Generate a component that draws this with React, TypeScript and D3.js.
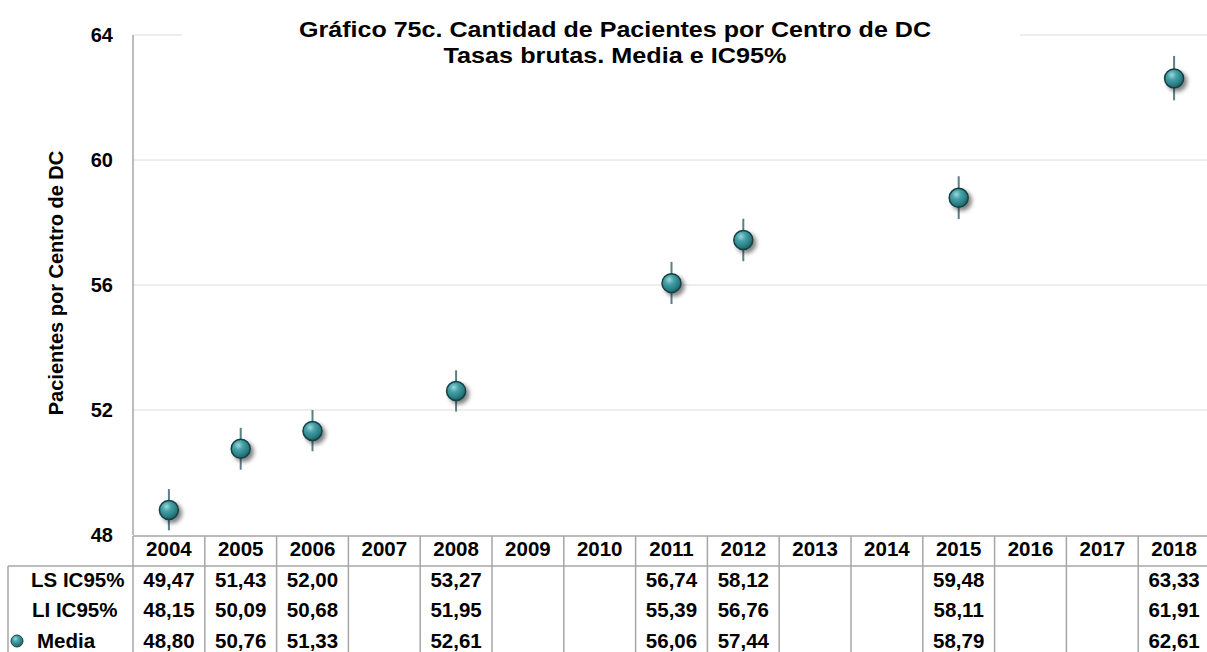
import React from 'react';
import { scaleLinear, scaleBand, format } from 'd3';

const years = ['2004','2005','2006','2007','2008','2009','2010','2011','2012','2013','2014','2015','2016','2017','2018'];
const media = [48.80, 50.76, 51.33, null, 52.61, null, null, 56.06, 57.44, null, null, 58.79, null, null, 62.61];
const lsIC = [49.47, 51.43, 52.00, null, 53.27, null, null, 56.74, 58.12, null, null, 59.48, null, null, 63.33];
const liIC = [48.15, 50.09, 50.68, null, 51.95, null, null, 55.39, 56.76, null, null, 58.11, null, null, 61.91];
const yTicks = [48, 52, 56, 60, 64];

const W = 1207, H = 652;
const left = 133, top = 35, bottom = 535;
const colW = 71.8;
const fontF = '"Liberation Sans", Arial, sans-serif';

const fmt = (v: number | null) => (v == null ? '' : format('.2f')(v).replace('.', ','));

const App: React.FC = () => {
  const x = scaleBand<string>().domain(years).range([left, left + colW * years.length]);
  const y = scaleLinear().domain([48, 64]).range([bottom, top]);

  const headerBottom = 566;
  const rows = [
    { label: 'LS IC95%', vals: lsIC, y: 580, lx: 31 },
    { label: 'LI IC95%', vals: liIC, y: 610, lx: 32 },
    { label: 'Media', vals: media, y: 641, lx: 37 },
  ];

  return (
    <svg width={W} height={H} style={{ position: 'absolute', left: 0, top: 0, background: '#fff' }}>
      <defs>
        <radialGradient id="ball" cx="0.38" cy="0.32" r="0.7">
          <stop offset="0" stopColor="#9fd6da" />
          <stop offset="0.35" stopColor="#45a2a8" />
          <stop offset="0.8" stopColor="#27797f" />
          <stop offset="1" stopColor="#1a5c61" />
        </radialGradient>
        <filter id="shadow" x="-50%" y="-50%" width="200%" height="200%">
          <feGaussianBlur in="SourceAlpha" stdDeviation="2" />
          <feOffset dx="3" dy="3" result="b" />
          <feComponentTransfer><feFuncA type="linear" slope="0.5" /></feComponentTransfer>
          <feMerge>
            <feMergeNode />
            <feMergeNode in="SourceGraphic" />
          </feMerge>
        </filter>
      </defs>

      {/* gridlines */}
      {yTicks.filter(t => t !== 48).map(t => (
        <line key={t} x1={left} x2={W} y1={y(t)} y2={y(t)} stroke="#dcdcdc" strokeWidth={1} />
      ))}
      {/* title background */}
      <rect x={182} y={8} width={838} height={70} fill="#fff" />
      <text x={615} y={37} textAnchor="middle" fontFamily={fontF} fontWeight="bold" fontSize={22}
        textLength={632} lengthAdjust="spacingAndGlyphs">
        Gráfico 75c. Cantidad de Pacientes por Centro de DC
      </text>
      <text x={615} y={63} textAnchor="middle" fontFamily={fontF} fontWeight="bold" fontSize={22}
        textLength={343} lengthAdjust="spacingAndGlyphs">
        Tasas brutas. Media e IC95%
      </text>

      {/* y axis */}
      <line x1={left} x2={left} y1={top} y2={bottom} stroke="#a6a6a6" strokeWidth={1.5} />
      {yTicks.map(t => (
        <text key={t} x={113} y={y(t)} dy="0.35em" textAnchor="end" fontFamily={fontF} fontWeight="bold" fontSize={20}>
          {t}
        </text>
      ))}
      <text transform={`translate(63,${(top + bottom) / 2 - 2}) rotate(-90)`} textAnchor="middle"
        fontFamily={fontF} fontWeight="bold" fontSize={20}>
        Pacientes por Centro de DC
      </text>

      {/* error bars and points */}
      {years.map((yr, i) => {
        const m = media[i];
        if (m == null) return null;
        const cx = x(yr)! + x.bandwidth() / 2;
        return (
          <g key={yr}>
            <line x1={cx} x2={cx} y1={y(lsIC[i]!)} y2={y(liIC[i]!)} stroke="#5b7f86" strokeWidth={2} />
            <circle cx={cx} cy={y(m)} r={9.5} fill="url(#ball)" stroke="#173f44" strokeWidth={1.5} filter="url(#shadow)" />
          </g>
        );
      })}

      {/* table */}
      <line x1={left} x2={W} y1={bottom + 1} y2={bottom + 1} stroke="#a6a6a6" strokeWidth={1.5} />
      <line x1={8} x2={W} y1={headerBottom} y2={headerBottom} stroke="#a6a6a6" strokeWidth={1.5} />
      <line x1={8} x2={8} y1={headerBottom} y2={H} stroke="#a6a6a6" strokeWidth={1.5} />
      {years.map(yr => (
        <line key={yr} x1={x(yr)!} x2={x(yr)!} y1={bottom + 1} y2={H} stroke="#a6a6a6" strokeWidth={1.5} />
      ))}
      <line x1={x('2018')! + colW} x2={x('2018')! + colW} y1={bottom + 1} y2={H} stroke="#a6a6a6" strokeWidth={1.5} />
      {years.map(yr => (
        <text key={yr} x={x(yr)! + x.bandwidth() / 2} y={549} dy="0.35em" textAnchor="middle"
          fontFamily={fontF} fontWeight="bold" fontSize={20.5}>
          {yr}
        </text>
      ))}
      {rows.map(r => (
        <g key={r.label}>
          <text x={r.lx} y={r.y} dy="0.35em" textAnchor="start" fontFamily={fontF} fontWeight="bold" fontSize={20.5}>
            {r.label}
          </text>
          {years.map((yr, i) => (
            <text key={yr} x={x(yr)! + x.bandwidth() / 2} y={r.y} dy="0.35em" textAnchor="middle"
              fontFamily={fontF} fontWeight="bold" fontSize={20.5}>
              {fmt(r.vals[i])}
            </text>
          ))}
        </g>
      ))}
      <circle cx={17} cy={641} r={6} fill="url(#ball)" stroke="#173f44" strokeWidth={1} />
    </svg>
  );
};

export default App;
